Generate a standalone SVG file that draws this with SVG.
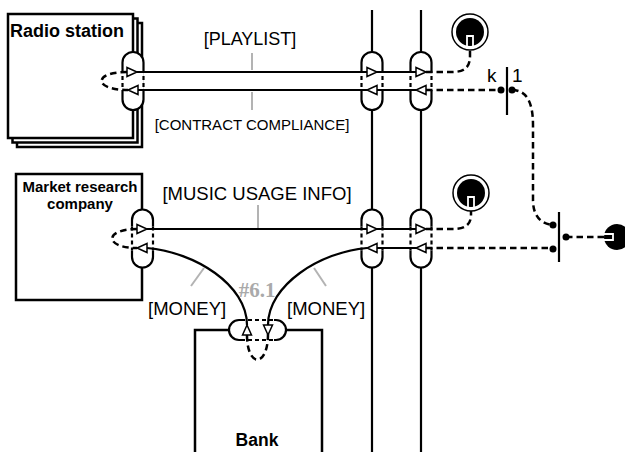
<svg xmlns="http://www.w3.org/2000/svg" xmlns:xlink="http://www.w3.org/1999/xlink" width="625" height="452" viewBox="0 0 625 452">
<style>
.box{fill:#fff;stroke:#000;stroke-width:2.5}
.ln{fill:none;stroke:#000;stroke-width:2.2}
.ds{fill:none;stroke:#000;stroke-width:2.5;stroke-dasharray:6.5 4}
.pd{fill:none;stroke:#000;stroke-width:2.2;stroke-dasharray:4 3}
.gr{stroke:#b3b3b3;stroke-width:2}
.tri{fill:#fff;stroke:#000;stroke-width:1.5}
.dot{fill:#000}
.t{font-family:"Liberation Sans",Arial,sans-serif;fill:#000}
.b{font-weight:bold}
</style>
<defs>
<g id="vport">
<rect x="-10.5" y="-29" width="21" height="58" rx="10.5" fill="#fff"/>
<path class="ln" d="M-10.5,-12 V-18.5 A10.5,10.5 0 0 1 10.5,-18.5 V-12 M-10.5,12 V18.5 A10.5,10.5 0 0 0 10.5,18.5 V12"/>
<path class="pd" d="M-10.5,-12 V12 M10.5,-12 V12"/>
</g>
<path id="tr" d="M-5,-4.5 L5,0 L-5,4.5 Z"/>
<path id="tl" d="M5,-4.5 L-5,0 L5,4.5 Z"/>
<path id="tu" d="M-4.5,5 L0,-5 L4.5,5 Z"/>
<path id="td" d="M-4.5,-5 L0,5 L4.5,-5 Z"/>
</defs>

<g id="lanes">
<line class="ln" x1="372" y1="10" x2="372" y2="452"/>
<line class="ln" x1="421" y1="10" x2="421" y2="452"/>
<use xlink:href="#vport" x="372" y="81"/>
<use xlink:href="#vport" x="421" y="81"/>
<use xlink:href="#vport" x="372" y="238.5"/>
<use xlink:href="#vport" x="421" y="238.5"/>
</g>

<g id="radio-station">
<rect class="box" x="17" y="23" width="125" height="124"/>
<rect class="box" x="12.5" y="18.5" width="125" height="124"/>
<rect class="box" x="8" y="14" width="125" height="124"/>
<text class="t b" x="10" y="37" font-size="18">Radio station</text>
<use xlink:href="#vport" x="133" y="81"/>
</g>

<g id="market-research">
<rect class="box" x="16" y="174" width="126" height="126"/>
<text class="t b" x="80" y="192" font-size="15" text-anchor="middle">Market research</text>
<text class="t b" x="80" y="209" font-size="15" text-anchor="middle">company</text>
<use xlink:href="#vport" x="142.5" y="238.5"/>
</g>

<g id="bank">
<path class="box" d="M195,470 V330 H322 V470"/>
<rect x="229" y="320" width="57" height="20" rx="10" fill="#fff"/>
<path class="ln" d="M241,320 H239 A10,10 0 0 0 239,340 H241 M274,320 H276 A10,10 0 0 1 276,340 H274"/>
<path class="pd" d="M241,320 H274 M241,340 H274"/>
<text class="t b" x="257" y="446" font-size="17.5" text-anchor="middle">Bank</text>
</g>

<g id="connectors">
<path class="ln" d="M137,72 H416"/>
<path class="ln" d="M138,90 H416"/>
<path class="ln" d="M147,229 H416"/>
<path class="ln" d="M377,248 H416"/>
<path class="ln" d="M367,248 C320,252 268,285 268,325"/>
<path class="ln" d="M147,248 C195,252 247,285 247,325"/>
<path class="ds" d="M127,72 C93,72 93,90 128,90"/>
<path class="ds" d="M137,229 C104,229 104,248 137,248"/>
<path class="ds" d="M247,335 C247,368 268,368 268,334"/>
<path class="ds" d="M426,72 H452 C466,72 470,66 470,56 V48"/>
<path class="ds" d="M426,90 H501"/>
<path class="ds" d="M426,229 H453 C467,229 471,223 471,215 V209"/>
<path class="ds" d="M426,248 H553"/>
<path class="ds" d="M512,90 C528,90 533,105 533,125 V200 C533,215 540,224 553,225"/>
<path class="ds" d="M566,237 H606"/>
<use class="tri" xlink:href="#tr" x="132" y="72"/>
<use class="tri" xlink:href="#tl" x="133" y="90"/>
<use class="tri" xlink:href="#tr" x="372" y="72"/>
<use class="tri" xlink:href="#tl" x="372" y="90"/>
<use class="tri" xlink:href="#tr" x="421" y="72"/>
<use class="tri" xlink:href="#tl" x="421" y="90"/>
<use class="tri" xlink:href="#tr" x="142" y="229"/>
<use class="tri" xlink:href="#tl" x="142" y="248"/>
<use class="tri" xlink:href="#tr" x="372" y="229"/>
<use class="tri" xlink:href="#tl" x="372" y="248"/>
<use class="tri" xlink:href="#tr" x="421" y="229"/>
<use class="tri" xlink:href="#tl" x="421" y="248"/>
<use class="tri" xlink:href="#tu" x="247" y="330"/>
<use class="tri" xlink:href="#td" x="268" y="330"/>
<line class="gr" x1="252" y1="53" x2="252" y2="70"/>
<line class="gr" x1="252" y1="92" x2="252" y2="110"/>
<line class="gr" x1="258" y1="205" x2="258" y2="228"/>
<line class="gr" x1="204" y1="268" x2="191" y2="286"/>
<line class="gr" x1="314" y1="268" x2="326" y2="286"/>
<text class="t" x="250" y="45" font-size="18" text-anchor="middle">[PLAYLIST]</text>
<text class="t" x="252" y="130" font-size="15" text-anchor="middle">[CONTRACT COMPLIANCE]</text>
<text class="t" x="257" y="200" font-size="18.5" text-anchor="middle">[MUSIC USAGE INFO]</text>
<text class="t" x="148" y="315" font-size="18.5">[MONEY]</text>
<text class="t" x="287" y="315" font-size="18.5">[MONEY]</text>
<text x="257" y="297" font-size="21" font-weight="bold" font-family="'Liberation Serif','Times New Roman',serif" fill="#aaa" text-anchor="middle">#6.1</text>
</g>

<g id="end-top">
<circle cx="470" cy="32" r="18" fill="#fff" stroke="#000" stroke-width="1.5"/>
<circle cx="470" cy="32" r="14" fill="#000"/>
<path d="M467,47 V36 H473 V47" fill="none" stroke="#fff" stroke-width="1.8"/>
</g>
<g id="end-middle">
<circle cx="471" cy="193" r="18" fill="#fff" stroke="#000" stroke-width="1.5"/>
<circle cx="471" cy="193" r="14" fill="#000"/>
<path d="M468,208 V197 H474 V208" fill="none" stroke="#fff" stroke-width="1.8"/>
</g>
<g id="sync-k1">
<line class="ln" x1="507" y1="67" x2="507" y2="115"/>
<circle class="dot" cx="501" cy="90" r="3.5"/>
<circle class="dot" cx="512" cy="90" r="3.5"/>
<text class="t" x="487" y="82" font-size="19">k</text>
<text class="t" x="512" y="82" font-size="19">1</text>
</g>
<g id="sync-merge">
<line class="ln" x1="559" y1="212" x2="559" y2="262"/>
<circle class="dot" cx="553" cy="225" r="3.5"/>
<circle class="dot" cx="553" cy="249" r="3.5"/>
<circle class="dot" cx="566" cy="237" r="3.5"/>
</g>
<g id="end-right">
<circle cx="617" cy="237" r="13" fill="#000"/>
<path d="M603,234 H613 V240 H603" fill="none" stroke="#fff" stroke-width="1.8"/>
</g>
</svg>
